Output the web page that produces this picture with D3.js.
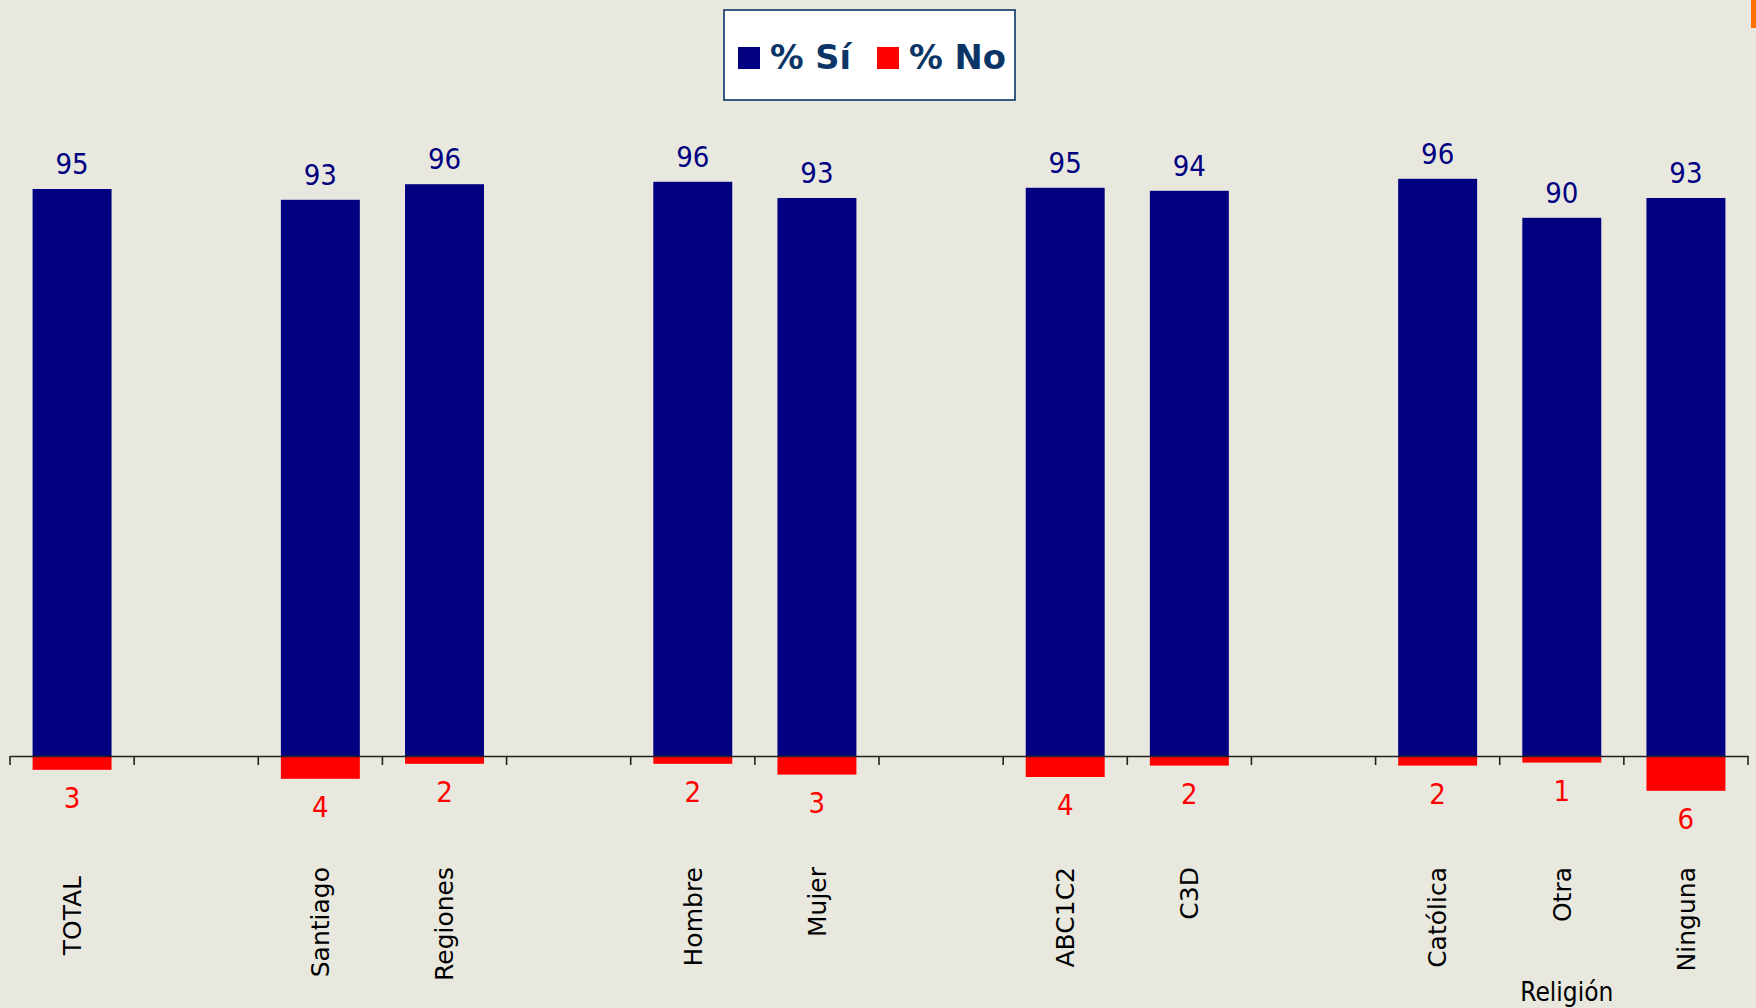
<!DOCTYPE html>
<html>
<head>
    <meta charset="utf-8">
    <title>% Sí / % No</title>
    <script src="https://d3js.org/d3.v7.min.js"></script>
    <style>
        body { margin: 0; background: #e8e8de; }
        svg { display: block; }
    </style>
</head>
<body>
    <div id="chart"></div>

    <script>
        // slots on the category axis, empty strings are the gaps between groups
        const slots = ["TOTAL", "", "Santiago", "Regiones", "", "Hombre", "Mujer", "", "ABC1C2", "C3D", "", "Católica", "Otra", "Ninguna"];
        const categories = ["TOTAL", "Santiago", "Regiones", "Hombre", "Mujer", "ABC1C2", "C3D", "Católica", "Otra", "Ninguna"];
        const siValues = [94.5, 92.7, 95.3, 95.7, 93.0, 94.7, 94.2, 96.2, 89.7, 93.0];
        const siLabels = ["95", "93", "96", "96", "93", "95", "94", "96", "90", "93"];
        const noValues = [2.3, 3.8, 1.3, 1.3, 3.1, 3.5, 1.6, 1.6, 1.1, 5.8];
        const noLabels = ["3", "4", "2", "2", "3", "4", "2", "2", "1", "6"];
        const seriesNames = ["% Sí", "% No"];
        const groupLabels = [{ text: "Religión", at: "Otra" }];

        const width = 1756;
        const height = 1008;
        const numFont = "'DejaVu Sans Condensed', 'DejaVu Sans', sans-serif";

        const svg = d3.select("#chart").append("svg")
            .attr("width", width)
            .attr("height", height);

        svg.append("rect")
            .attr("width", width)
            .attr("height", height)
            .attr("fill", "#e8e8de");

        // small orange mark in the top right corner
        svg.append("rect")
            .attr("x", 1751).attr("y", 0)
            .attr("width", 5).attr("height", 28)
            .attr("fill", "#ff7000");

        const keys = slots.map((s, i) => s === "" ? "gap" + i : s);

        const xScale = d3.scaleBand()
            .domain(keys)
            .range([10, 1748])
            .padding(0);

        const yScale = d3.scaleLinear()
            .domain([0, 100])
            .range([756, 156]);

        const barW = xScale.bandwidth() * 0.636;
        const cx = d => xScale(d) + xScale.bandwidth() / 2;

        // bars % Sí
        svg.selectAll("rect.si")
            .data(siValues)
            .enter()
            .append("rect")
            .attr("class", "si")
            .attr("x", (d, i) => cx(categories[i]) - barW / 2)
            .attr("y", d => yScale(d))
            .attr("width", barW)
            .attr("height", d => yScale(0) - yScale(d))
            .attr("fill", "#000080");

        // bars % No, drawn below the axis
        svg.selectAll("rect.no")
            .data(noValues)
            .enter()
            .append("rect")
            .attr("class", "no")
            .attr("x", (d, i) => cx(categories[i]) - barW / 2)
            .attr("y", yScale(0))
            .attr("width", barW)
            .attr("height", d => yScale(-d) - yScale(0))
            .attr("fill", "#ff0000");

        // axis: line with ticks on slot boundaries
        const axis = d3.axisBottom(xScale).tickSize(0).tickFormat("");
        const gx = svg.append("g")
            .attr("transform", "translate(0," + yScale(0) + ")")
            .call(axis);
        gx.select(".domain").attr("stroke", "#222").attr("stroke-width", 1.6);

        const bounds = keys.map(k => xScale(k)).concat([xScale.range()[1]]);
        gx.selectAll("line.sep")
            .data(bounds)
            .enter()
            .append("line")
            .attr("class", "sep")
            .attr("x1", d => d).attr("x2", d => d)
            .attr("y1", 0).attr("y2", 9)
            .attr("stroke", "#222")
            .attr("stroke-width", 1.6);

        // value labels
        svg.selectAll("text.si")
            .data(siLabels)
            .enter()
            .append("text")
            .attr("class", "si")
            .attr("x", (d, i) => cx(categories[i]))
            .attr("y", (d, i) => yScale(siValues[i]) - 15)
            .attr("text-anchor", "middle")
            .attr("font-family", numFont)
            .attr("font-size", 29)
            .attr("fill", "#000080")
            .text(d => d);

        svg.selectAll("text.no")
            .data(noLabels)
            .enter()
            .append("text")
            .attr("class", "no")
            .attr("x", (d, i) => cx(categories[i]))
            .attr("y", (d, i) => yScale(-noValues[i]) + 38)
            .attr("text-anchor", "middle")
            .attr("font-family", numFont)
            .attr("font-size", 29)
            .attr("fill", "#ff0000")
            .text(d => d);

        // rotated category labels
        svg.selectAll("text.cat")
            .data(categories)
            .enter()
            .append("text")
            .attr("class", "cat")
            .attr("transform", d => "translate(" + cx(d) + "," + (d === "TOTAL" ? 876 : 867) + ") rotate(-90)")
            .attr("dy", "0.35em")
            .attr("text-anchor", "end")
            .attr("font-family", "'DejaVu Sans', Verdana, sans-serif")
            .attr("font-size", 25)
            .attr("fill", "#000")
            .text(d => d);

        svg.selectAll("text.group")
            .data(groupLabels)
            .enter()
            .append("text")
            .attr("class", "group")
            .attr("x", d => cx(d.at) + 5)
            .attr("y", 1001)
            .attr("text-anchor", "middle")
            .attr("font-family", numFont)
            .attr("font-size", 26)
            .attr("fill", "#000")
            .text(d => d.text);

        // legend
        const legend = svg.append("g").attr("transform", "translate(724,10)");
        legend.append("rect")
            .attr("width", 291).attr("height", 90)
            .attr("fill", "#fff")
            .attr("stroke", "#0a3566")
            .attr("stroke-width", 1.6);

        const legendItems = [
            { name: seriesNames[0], color: "#000080", x: 14, w: 81 },
            { name: seriesNames[1], color: "#ff0000", x: 153, w: 97 }
        ];
        const li = legend.selectAll("g.item")
            .data(legendItems)
            .enter()
            .append("g")
            .attr("class", "item")
            .attr("transform", d => "translate(" + d.x + ",0)");
        li.append("rect")
            .attr("y", 37).attr("width", 22).attr("height", 22)
            .attr("fill", d => d.color);
        li.append("text")
            .attr("x", 32).attr("y", 59)
            .attr("font-family", numFont)
            .attr("font-weight", "bold")
            .attr("font-size", 34)
            .attr("fill", "#0a3566")
            .attr("textLength", d => d.w)
            .attr("lengthAdjust", "spacingAndGlyphs")
            .text(d => d.name);
    </script>
</body>
</html>
